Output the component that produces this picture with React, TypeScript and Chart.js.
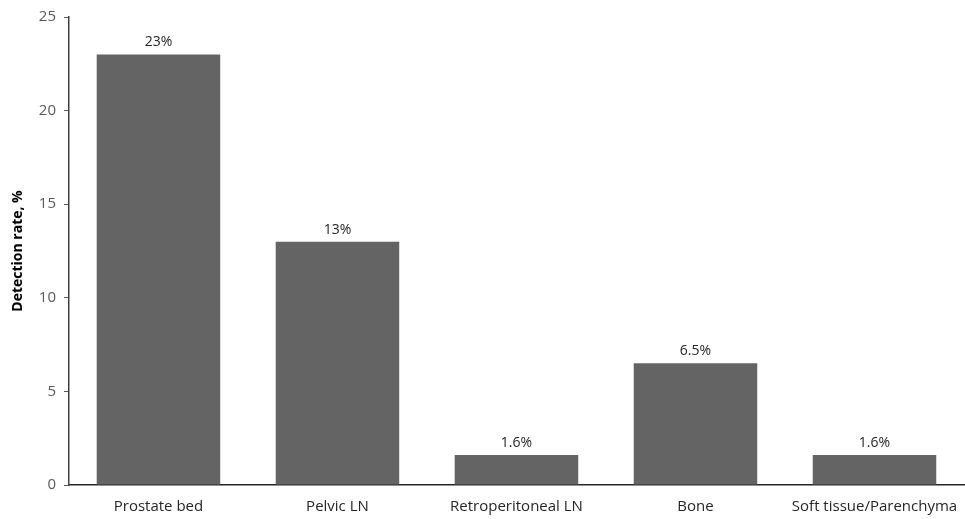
import React, { useEffect, useRef } from "react";
import { Chart, registerables } from "chart.js";

Chart.register(...registerables);

const categories = ["Prostate bed", "Pelvic LN", "Retroperitoneal LN", "Bone", "Soft tissue/Parenchyma"];
const detectionRates = [23, 13, 1.6, 6.5, 1.6];
const valueLabels = ["23%", "13%", "1.6%", "6.5%", "1.6%"];
const yTitle = "Detection rate, %";

const FONT = "'Open Sans', sans-serif";

const valueLabelPlugin = {
  id: "valueLabels",
  afterDatasetsDraw(chart: any) {
    const ctx = chart.ctx;
    const meta = chart.getDatasetMeta(0);
    ctx.save();
    ctx.font = `14px ${FONT}`;
    ctx.fillStyle = "#262626";
    ctx.textAlign = "center";
    ctx.textBaseline = "bottom";
    meta.data.forEach((bar: any, i: number) => {
      ctx.fillText(valueLabels[i], bar.x, bar.y - 5);
    });
    ctx.restore();
  },
};

export default function App() {
  const ref = useRef<HTMLCanvasElement | null>(null);
  useEffect(() => {
    if (!ref.current) return;
    const chart = new Chart(ref.current, {
      type: "bar",
      data: {
        labels: categories,
        datasets: [
          {
            data: detectionRates,
            backgroundColor: "#646464",
            borderWidth: 0,
            categoryPercentage: 1,
            barPercentage: 0.69,
          },
        ],
      },
      options: {
        animation: false,
        responsive: true,
        maintainAspectRatio: false,
        layout: { padding: { top: 16, left: 10, right: 1, bottom: 0 } },
        plugins: { legend: { display: false }, tooltip: { enabled: false } },
        scales: {
          x: {
            grid: { display: false },
            border: { display: true, color: "#262626", width: 1.5 },
            ticks: { color: "#262626", font: { family: FONT, size: 15 }, padding: 5, maxRotation: 0, autoSkip: false },
            afterFit: (scale: any) => {
              scale.height = 34;
            },
          },
          y: {
            min: 0,
            max: 25,
            ticks: { stepSize: 5, color: "#595959", font: { family: FONT, size: 15 }, padding: 8 },
            grid: { drawOnChartArea: false, drawTicks: true, tickLength: 5, color: "#595959" },
            border: { display: true, color: "#404040", width: 1.5 },
            title: {
              display: true,
              text: yTitle,
              color: "#000000",
              font: { family: FONT, size: 14, weight: "bold" },
              padding: { top: 0, bottom: 4 },
            },
          },
        },
      },
      plugins: [valueLabelPlugin],
    });
    return () => chart.destroy();
  }, []);
  return (
    <div style={{ position: "fixed", left: 0, top: 0, width: 965, height: 519, background: "#fff" }}>
      <canvas ref={ref} />
    </div>
  );
}
